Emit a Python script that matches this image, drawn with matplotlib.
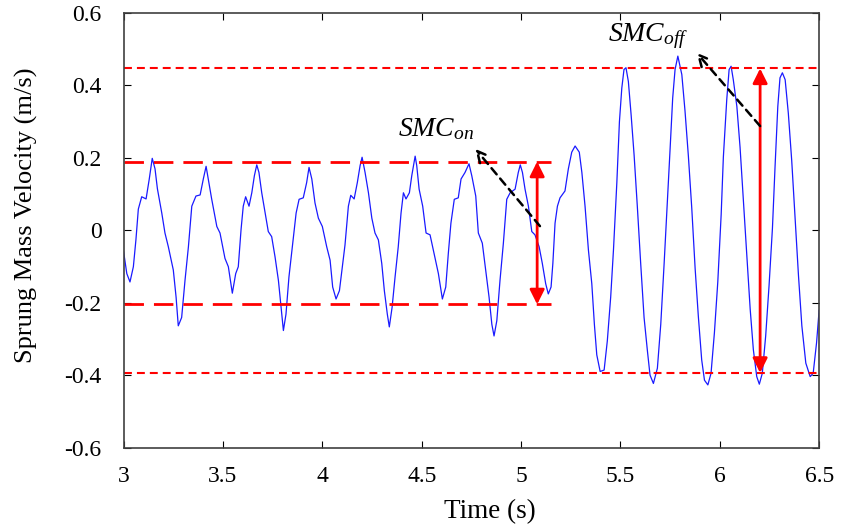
import numpy as np
import matplotlib
matplotlib.use('Agg')
import matplotlib.pyplot as plt

plt.rcParams['font.family'] = ['Liberation Serif', 'DejaVu Serif']
plt.rcParams['mathtext.fontset'] = 'custom'
plt.rcParams['mathtext.it'] = 'Liberation Serif:italic'
plt.rcParams['mathtext.rm'] = 'Liberation Serif'

# Sprung mass velocity trace
time = [3.000, 3.016, 3.032, 3.049, 3.062, 3.074, 3.091, 3.113, 3.129, 3.144,
        3.158, 3.170, 3.192, 3.208, 3.225, 3.250, 3.264, 3.275, 3.292, 3.309,
        3.326, 3.343, 3.364, 3.385, 3.401, 3.415, 3.426, 3.443, 3.469, 3.485,
        3.510, 3.527, 3.547, 3.564, 3.577, 3.591, 3.602, 3.614, 3.631, 3.645,
        3.658, 3.670, 3.681, 3.695, 3.712, 3.728, 3.745, 3.762, 3.779, 3.791,
        3.804, 3.817, 3.832, 3.851, 3.868, 3.883, 3.904, 3.921, 3.933, 3.947,
        3.963, 3.980, 4.000, 4.022, 4.039, 4.052, 4.069, 4.086, 4.103, 4.114,
        4.131, 4.143, 4.160, 4.176, 4.190, 4.200, 4.215, 4.232, 4.249, 4.265,
        4.282, 4.299, 4.312, 4.327, 4.337, 4.351, 4.366, 4.382, 4.396, 4.408,
        4.421, 4.438, 4.450, 4.467, 4.475, 4.487, 4.505, 4.522, 4.542, 4.562,
        4.584, 4.604, 4.621, 4.634, 4.647, 4.664, 4.684, 4.698, 4.718, 4.738,
        4.752, 4.772, 4.785, 4.805, 4.822, 4.839, 4.853, 4.864, 4.878, 4.894,
        4.911, 4.928, 4.945, 4.970, 4.986, 4.996, 5.007, 5.020, 5.037, 5.054,
        5.070, 5.091, 5.107, 5.124, 5.137, 5.151, 5.160, 5.171, 5.183, 5.196,
        5.221, 5.238, 5.255, 5.272, 5.293, 5.306, 5.322, 5.339, 5.356, 5.369,
        5.381, 5.398, 5.418, 5.434, 5.451, 5.465, 5.482, 5.495, 5.507, 5.518,
        5.528, 5.540, 5.554, 5.569, 5.585, 5.602, 5.619, 5.636, 5.649, 5.666,
        5.686, 5.703, 5.720, 5.736, 5.750, 5.763, 5.775, 5.789, 5.809, 5.825,
        5.842, 5.859, 5.876, 5.892, 5.909, 5.923, 5.940, 5.956, 5.973, 5.990,
        6.007, 6.018, 6.035, 6.047, 6.057, 6.068, 6.086, 6.102, 6.119, 6.136,
        6.153, 6.169, 6.186, 6.199, 6.214, 6.231, 6.248, 6.265, 6.278, 6.292,
        6.303, 6.315, 6.329, 6.345, 6.362, 6.379, 6.396, 6.413, 6.433, 6.455,
        6.470, 6.487, 6.500]
velocity = [-0.059, -0.119, -0.142, -0.100, -0.025, 0.059, 0.093, 0.087, 0.142, 0.199,
            0.170, 0.115, 0.048, -0.007, -0.045, -0.109, -0.184, -0.263, -0.240, -0.137,
            -0.045, 0.067, 0.095, 0.098, 0.142, 0.177, 0.142, 0.087, 0.011, -0.007,
            -0.077, -0.100, -0.173, -0.119, -0.100, 0.003, 0.067, 0.093, 0.067, 0.104,
            0.151, 0.181, 0.160, 0.104, 0.048, -0.003, -0.017, -0.073, -0.138, -0.203,
            -0.276, -0.231, -0.128, -0.035, 0.048, 0.086, 0.090, 0.132, 0.174, 0.142,
            0.076, 0.034, 0.011, -0.045, -0.082, -0.156, -0.189, -0.166, -0.091, -0.040,
            0.067, 0.097, 0.087, 0.132, 0.179, 0.202, 0.160, 0.104, 0.034, -0.007,
            -0.026, -0.091, -0.166, -0.231, -0.266, -0.212, -0.128, -0.045, 0.048, 0.104,
            0.087, 0.104, 0.151, 0.205, 0.179, 0.114, 0.067, -0.007, -0.012, -0.063,
            -0.119, -0.189, -0.156, -0.063, 0.020, 0.086, 0.090, 0.142, 0.160, 0.184,
            0.151, 0.095, -0.007, -0.035, -0.110, -0.184, -0.259, -0.291, -0.249, -0.138,
            -0.035, 0.086, 0.104, 0.114, 0.160, 0.181, 0.160, 0.114, 0.067, -0.003,
            -0.012, -0.045, -0.091, -0.147, -0.175, -0.156, -0.091, 0.020, 0.067, 0.090,
            0.109, 0.170, 0.216, 0.233, 0.216, 0.160, 0.067, -0.054, -0.147, -0.259,
            -0.343, -0.389, -0.385, -0.305, -0.184, -0.054, 0.132, 0.300, 0.393, 0.444,
            0.449, 0.411, 0.318, 0.207, 0.067, -0.091, -0.240, -0.333, -0.399, -0.422,
            -0.380, -0.259, -0.091, 0.076, 0.225, 0.365, 0.444, 0.481, 0.430, 0.330,
            0.205, 0.062, -0.105, -0.236, -0.357, -0.413, -0.426, -0.394, -0.282, -0.142,
            0.044, 0.202, 0.360, 0.444, 0.453, 0.416, 0.342, 0.230, 0.081, -0.068,
            -0.217, -0.329, -0.403, -0.424, -0.394, -0.291, -0.152, 0.006, 0.174, 0.342,
            0.421, 0.435, 0.416, 0.323, 0.193, 0.034, -0.124, -0.263, -0.366, -0.403,
            -0.394, -0.310, -0.220]

# envelope levels (controller on / off)
on_upper, on_lower, on_end = 0.19, -0.204, 5.15
off_upper, off_lower = 0.447, -0.393
on_arrow_t, off_arrow_t = 5.081, 6.203

fig = plt.figure(figsize=(8.41, 5.25), dpi=100)
ax = fig.add_axes([0.147, 0.1467, 0.827, 0.8286])

ax.plot(time, velocity, color='#1a1aff', lw=0.9)

# envelope dashed lines
ax.plot([3, on_end], [on_upper, on_upper], color='red', lw=2, dashes=(7, 3.6))
ax.plot([3, on_end], [on_lower, on_lower], color='red', lw=2, dashes=(7, 3.6))
ax.plot([3, 6.5], [off_upper, off_upper], color='red', lw=1.5, dashes=(3.8, 2.4))
ax.plot([3, 6.5], [off_lower, off_lower], color='red', lw=1.5, dashes=(3.8, 2.4))

# red double arrows
ax.annotate('', xy=(on_arrow_t, on_lower), xytext=(on_arrow_t, on_upper),
            arrowprops=dict(arrowstyle='<|-|>', color='red', lw=2,
                            mutation_scale=22, shrinkA=0, shrinkB=0))
ax.annotate('', xy=(off_arrow_t, off_lower), xytext=(off_arrow_t, off_upper),
            arrowprops=dict(arrowstyle='<|-|>', color='red', lw=2,
                            mutation_scale=22, shrinkA=0, shrinkB=0))

# black dashed pointers and labels
ax.annotate('', xy=(4.77, 0.225), xytext=(5.095, 0.012),
            arrowprops=dict(arrowstyle='->', color='black', lw=1.8, ls=(0, (3.2, 2.2)),
                            mutation_scale=20, shrinkA=0, shrinkB=0))
ax.annotate('', xy=(5.884, 0.49), xytext=(6.203, 0.288),
            arrowprops=dict(arrowstyle='->', color='black', lw=1.8, ls=(0, (3.2, 2.2)),
                            mutation_scale=20, shrinkA=0, shrinkB=0))
ax.text(4.381, 0.26, r'$SMC_{on}$', fontsize=20, va='baseline')
ax.text(5.438, 0.523, r'$SMC_{off}$', fontsize=20, va='baseline')

ax.set_xlim(3, 6.5)
ax.set_ylim(-0.6, 0.6)
ax.set_xticks([3, 3.5, 4, 4.5, 5, 5.5, 6, 6.5])
ax.set_xticklabels(['3', '3.5', '4', '4.5', '5', '5.5', '6', '6.5'])
ax.set_yticks([-0.6, -0.4, -0.2, 0, 0.2, 0.4, 0.6])
ax.set_yticklabels(['-0.6', '-0.4', '-0.2', '0', '0.2', '0.4', '0.6'])
ax.tick_params(direction='in', top=True, right=True, length=5, labelsize=17)
ax.tick_params(axis='x', pad=13)
ax.tick_params(axis='y', pad=16)
for s in ax.spines.values():
    s.set_color('#404040')
    s.set_linewidth(1.2)

ax.set_xlabel('Time (s)', fontsize=19.5)
ax.set_ylabel('Sprung Mass Velocity (m/s)', fontsize=19)
ax.xaxis.set_label_coords(0.527, -0.117)
ax.yaxis.set_label_coords(-0.123, 0.536)

fig.savefig('out.png', dpi=100)
